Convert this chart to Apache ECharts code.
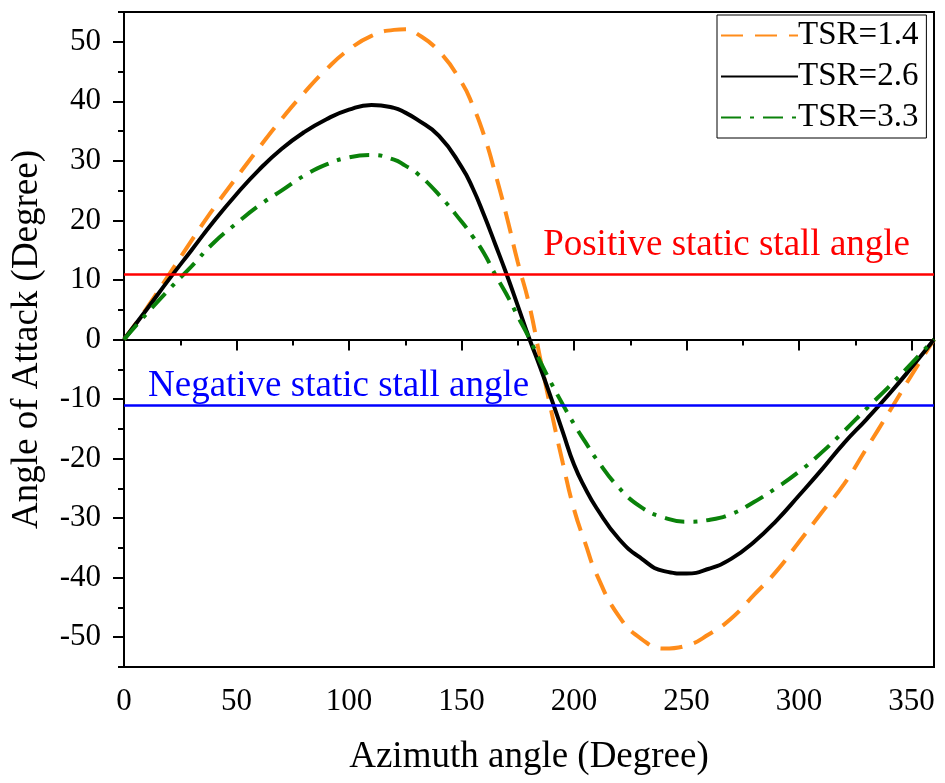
<!DOCTYPE html>
<html>
<head>
<meta charset="utf-8">
<title>Angle of Attack</title>
<script src="https://cdn.jsdelivr.net/npm/echarts@6/dist/echarts.min.js"></script>
<style>
  html, body { margin: 0; padding: 0; background: #fff; }
  #chart { width: 945px; height: 783px; }
</style>
</head>
<body>
<div id="chart"></div>
<script>
const azimuth = [0, 10, 20, 30, 40, 50, 60, 70, 80, 90, 100, 110, 120, 125, 130, 140, 150, 155, 160, 165, 170, 175,
  180, 185, 190, 195, 200, 205, 210, 220, 230, 240, 250, 260, 270, 280, 290, 300, 310, 320, 330, 340, 350, 360];

const tsr14 = [0, 5.2, 10.9, 16.6, 22.1, 27.2, 32.2, 37, 41.4, 45.4, 48.7, 51, 52, 52.1, 51.4, 48.4, 43.2, 39.3, 34.3, 27.9, 20.8, 13,
  6, -3.2, -12.2, -20.7, -28.5, -34.2, -39.4, -46.5, -50.3, -51.9, -51.4, -49.5, -46.8, -42.9, -38.9, -34, -29.1, -24.3, -18.3, -12.2, -6, 0];

const tsr26 = [0, 5, 10.1, 15, 19.9, 24.4, 28.5, 32, 34.8, 37, 38.6, 39.4, 38.9, 38.1, 37, 34.2, 29, 25.4, 20.9, 16, 11, 5.7,
  0.3, -4.7, -10, -15.5, -21, -25, -28.3, -33.5, -36.8, -38.9, -39.3, -38.5, -36.8, -34, -30.4, -26.2, -21.9, -17.4, -13.4, -9.2, -4.7, 0];

const tsr33 = [0, 4.3, 8.4, 12.3, 16.3, 19.5, 22.5, 25, 27.5, 29.4, 30.6, 31, 30.2, 29.2, 28, 24.3, 19.8, 17.3, 14.5, 10.9, 7.6, 3.9,
  0.3, -3.7, -7.4, -10.9, -14.2, -17.2, -20.1, -24.9, -28.2, -29.9, -30.6, -30.3, -29.3, -27.3, -24.9, -22.2, -19, -15.4, -11.6, -7.9, -4, 0];

const seriesNames = ['TSR=1.4', 'TSR=2.6', 'TSR=3.3'];
const positiveStall = 11;
const negativeStall = -11;

const xMajorTicks = [0, 50, 100, 150, 200, 250, 300, 350];
const xMinorTicks = [25, 75, 125, 175, 225, 275, 325];
const yMajorTicks = [-50, -40, -30, -20, -10, 0, 10, 20, 30, 40, 50];
const yMinorTicks = [-55, -45, -35, -25, -15, -5, 5, 15, 25, 35, 45, 55];

const FONT = '"Liberation Serif", "Times New Roman", serif';

function pairs(values) {
  return azimuth.map((a, i) => [a, values[i]]);
}

function curve(name, values, color, type) {
  return {
    name,
    type: 'line',
    data: pairs(values),
    smooth: 0.5,
    symbol: 'none',
    color,
    lineStyle: { color, width: 4, type, cap: 'butt' },
    z: 3,
  };
}

function stallLine(name, value, color, position, distance) {
  return {
    name,
    type: 'line',
    data: [],
    markLine: {
      silent: true,
      symbol: 'none',
      animation: false,
      lineStyle: { color, width: 2.5, type: 'solid' },
      label: {
        show: true,
        position,
        distance,
        formatter: name,
        color,
        fontFamily: FONT,
        fontSize: 37,
      },
      data: [{ yAxis: value }],
    },
    z: 2,
  };
}

const chart = echarts.init(document.getElementById('chart'), null, { renderer: 'canvas' });

const axisBase = {
  axisLine: { show: true, lineStyle: { color: '#000', width: 2 } },
  splitLine: { show: false },
};

chart.setOption({
  animation: false,
  backgroundColor: '#fff',
  grid: {
    left: 124, right: 11, top: 12, bottom: 116,
    show: true, borderColor: '#000', borderWidth: 2,
    containLabel: false, outerBoundsMode: 'none',
  },
  legend: {
    data: seriesNames,
    orient: 'vertical',
    left: 717,
    top: 15,
    itemWidth: 77,
    itemHeight: 14,
    itemGap: 8,
    padding: [4, 8, 4, 3],
    borderColor: '#000',
    borderWidth: 1,
    backgroundColor: '#fff',
    itemStyle: { color: 'rgba(0,0,0,0)', borderWidth: 0 },
    textStyle: { fontFamily: FONT, fontSize: 33, color: '#000', padding: [0, 0, 0, -5] },
  },
  xAxis: [
    {
      ...axisBase,
      type: 'value',
      min: 0,
      max: 360,
      name: 'Azimuth angle (Degree)',
      nameLocation: 'middle',
      nameGap: 72,
      nameTextStyle: { fontFamily: FONT, fontSize: 37, color: '#000' },
      axisTick: { show: true, inside: false, length: 11, lineStyle: { color: '#000', width: 2 }, customValues: xMajorTicks },
      axisLabel: { fontFamily: FONT, fontSize: 31, color: '#000', margin: 19, customValues: xMajorTicks },
    },
    {
      type: 'value',
      min: 0,
      max: 360,
      position: 'bottom',
      axisLine: { show: false },
      splitLine: { show: false },
      axisLabel: { show: false },
      axisTick: { show: true, inside: false, length: 6, lineStyle: { color: '#000', width: 2 }, customValues: xMinorTicks },
    },
  ],
  yAxis: [
    {
      ...axisBase,
      type: 'value',
      min: -55,
      max: 55,
      position: 'left',
      name: 'Angle of Attack (Degree)',
      nameLocation: 'middle',
      nameGap: 78,
      nameTextStyle: { fontFamily: FONT, fontSize: 37, color: '#000' },
      axisTick: { show: true, inside: false, length: 11, lineStyle: { color: '#000', width: 2 }, customValues: yMajorTicks },
      axisLabel: { fontFamily: FONT, fontSize: 31, color: '#000', margin: 23, customValues: yMajorTicks },
    },
    {
      type: 'value',
      min: -55,
      max: 55,
      position: 'left',
      offset: 0,
      axisLine: { show: false },
      splitLine: { show: false },
      axisLabel: { show: false },
      axisTick: { show: true, inside: false, length: 6, lineStyle: { color: '#000', width: 2 }, customValues: yMinorTicks },
    },
  ],
  series: [
    stallLine('Positive static stall angle', positiveStall, '#ff0000', 'insideEndTop', [24, 10]),
    stallLine('Negative static stall angle', negativeStall, '#0000ff', 'insideStartTop', [24, 0]),
    curve(seriesNames[0], tsr14, '#ff8c1a', [22, 12]),
    curve(seriesNames[1], tsr26, '#000000', 'solid'),
    curve(seriesNames[2], tsr33, '#0a820a', [20, 9, 4, 9]),
  ],
});
</script>
</body>
</html>
